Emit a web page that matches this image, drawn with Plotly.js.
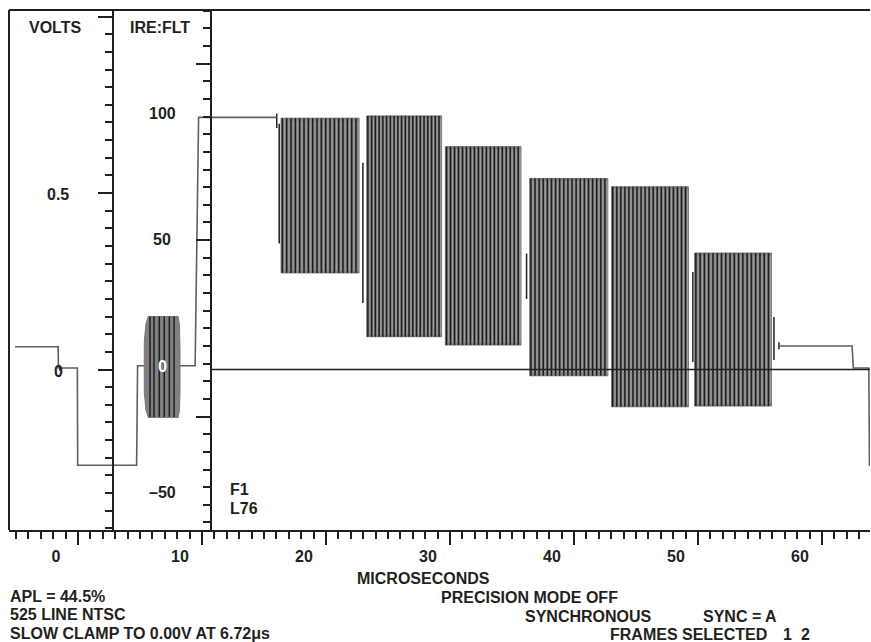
<!DOCTYPE html>
<html>
<head>
<meta charset="utf-8">
<script src="https://cdn.plot.ly/plotly-3.0.1.min.js"></script>
<style>html,body{margin:0;padding:0;background:#fff;}#chart{width:871px;height:642px;}</style>
</head>
<body>
<div id="chart"></div>
<script>
// ---------- DATA ----------
// time axis tick labels (microseconds)
const xTickVals = [0, 10, 20, 30, 40, 50, 60];
const xTickText = ['0', '10', '20', '30', '40', '50', '60'];
// IRE and volts scale labels
const ireLabelVals = [100, 50, 0, -50];
const ireLabelText = ['100', '50', '0', '\u201350'];
const voltLabelVals = [0.5, 0];
const voltLabelText = ['0.5', '0'];

// line portions (µs, IRE); null marks a break where a packet is drawn
const lineT   = [-3.3, 0.17, 0.2, 1.72, 1.75, 6.5, 6.58, 7.12, null, 10.0, 11.22, 11.5, 17.8, null, 58.3, 64.2, 64.3, 65.55, 65.6, 65.7];
const lineIRE = [9, 9, 0.6, 0.6, -38, -38, 1.5, 1.5, null, 1.5, 1.5, 100, 100, null, 9.3, 9.3, 0.6, 0.6, -38, -38];

// colour burst envelope (µs, IRE) and its visible stripes
const burstT   = [7.12, 7.25, 7.44, 9.86, 9.96, 10.0, 10.0, 9.96, 9.86, 7.44, 7.25, 7.12];
const burstIRE = [11, 18, 21, 21, 17, 8, -8, -16, -19, -19, -16, -9];
const burstStripeT = [7.58, 7.9, 8.33, 8.73, 9.14, 9.52];

// multiburst packets
const pktStart   = [18.15, 25.06, 31.4, 38.2, 44.8, 51.5];
const pktEnd     = [24.44, 31.1, 37.5, 44.5, 51.0, 57.7];
const pktTop     = [99.7, 100.6, 88.4, 75.8, 72.5, 46.2];
const pktBottom  = [38.3, 13.0, 9.7, -2.5, -14.8, -14.5];
const pktStripes = [18, 20, 19, 19, 19, 18];

// short transition marks between packets (µs, top IRE, bottom IRE)
const markT   = [17.8, 18.0, 24.75, 37.95, 51.36, 57.9, 58.3, 0.3];
const markTop = [101.5, 97.5, 82, 46, 38.7, 20.8, 10.8, 1.6];
const markBot = [95.8, 50, 26.4, 28, 3, 3.8, 8, -0.4];

// ---------- GEOMETRY HELPERS ----------
const W = 871, H = 642, L = 9, R = 870, T = 10, B = 530;
const xp = px => (px - L) / (R - L);
const yp = py => (B - py) / (B - T);
const ink = '#231f20';
const FONT = 'Liberation Sans, Arial, Helvetica, sans-serif';
const xRange = [(L - 56) / 12.4, (R - 56) / 12.4];
const pxPerIRE = 2.521, zeroPx = 369.5;
const yRange = [-(B - zeroPx) / pxPerIRE, (zeroPx - T) / pxPerIRE];
const vRange = [yRange[0] / 140, yRange[1] / 140];

const traces = [];
// packet fills
const fx = [], fy = [];
pktStart.forEach((s, i) => {
  fx.push(s, pktEnd[i], pktEnd[i], s, s, null);
  fy.push(pktBottom[i], pktBottom[i], pktTop[i], pktTop[i], pktBottom[i], null);
});
traces.push({x: fx, y: fy, mode: 'lines', fill: 'toself', fillcolor: 'rgb(128,128,128)',
  line: {color: 'rgb(120,120,120)', width: 1}, hoverinfo: 'skip', showlegend: false});
traces.push({x: burstT.concat([burstT[0]]), y: burstIRE.concat([burstIRE[0]]), mode: 'lines', fill: 'toself',
  fillcolor: 'rgb(128,128,128)', line: {color: 'rgb(120,120,120)', width: 1}, hoverinfo: 'skip', showlegend: false});

// stripes
const lx = [], ly = [], dx = [], dy = [];
pktStart.forEach((s, i) => {
  const n = pktStripes[i], step = (pktEnd[i] - s) / n;
  for (let k = 0; k < n; k++) {
    const t = s + step * (k + 0.3);
    dx.push(t, t, null); dy.push(pktBottom[i], pktTop[i], null);
    const t2 = t + step * 0.5;
    if (t2 < pktEnd[i]) { lx.push(t2, t2, null); ly.push(pktBottom[i] + 1, pktTop[i] - 1, null); }
  }
});
burstStripeT.forEach(t => { dx.push(t, t, null); dy.push(-18.8, 21, null); });
markT.forEach((t, i) => { dx.push(t, t, null); dy.push(markBot[i], markTop[i], null); });
traces.push({x: lx, y: ly, mode: 'lines', line: {color: 'rgba(205,205,205,0.55)', width: 0.8}, hoverinfo: 'skip', showlegend: false});
traces.push({x: dx, y: dy, mode: 'lines', line: {color: 'rgb(30,30,30)', width: 1.5}, hoverinfo: 'skip', showlegend: false});
// main line
traces.push({x: lineT, y: lineIRE, mode: 'lines', connectgaps: false,
  line: {color: 'rgb(95,95,95)', width: 1.6}, hoverinfo: 'skip', showlegend: false});
// dummy traces to activate the tick axes
traces.push({x: [30], y: [0.2], xaxis: 'x2', yaxis: 'y2', mode: 'markers', marker: {opacity: 0}, hoverinfo: 'skip', showlegend: false});

const tickFont = {family: FONT, size: 16, color: ink, weight: 'bold'};
const annFont = {family: FONT, size: 16, color: ink, weight: 'bold'};

const ann = [];
function txt(text, px, py, anchor, color) {
  ann.push({text: text, xref: 'paper', yref: 'paper', x: xp(px), y: yp(py), xanchor: anchor || 'left',
    yanchor: 'middle', showarrow: false, font: Object.assign({}, annFont, color ? {color: color} : {})});
}
txt('VOLTS', 55, 28, 'center');
txt('IRE:FLT', 160, 28, 'center');
ireLabelVals.forEach((v, i) => {
  ann.push({text: ireLabelText[i], xref: 'paper', yref: 'y', x: xp(162), y: v, yshift: 3.5, xanchor: 'center',
    yanchor: 'middle', showarrow: false, font: Object.assign({}, annFont, v === 0 ? {color: '#ffffff'} : {})});
});
voltLabelVals.forEach((v, i) => {
  ann.push({text: voltLabelText[i], xref: 'paper', yref: 'y2', x: xp(58), y: v, yshift: v === 0 ? -2 : -1,
    xanchor: 'center', yanchor: 'middle', showarrow: false, font: annFont});
});
txt('F1', 228, 489);
txt('L76', 228, 508);
txt('MICROSECONDS', 355, 578);
txt('APL = 44.5%', 8, 596);
txt('525 LINE NTSC', 8, 614);
txt('SLOW CLAMP TO 0.00V AT 6.72\u03bcs', 8, 633);
txt('PRECISION MODE OFF', 439, 597);
txt('SYNCHRONOUS', 523, 616);
txt('SYNC = A', 701, 616);
txt('FRAMES SELECTED', 608, 634);
txt('1', 787, 634, 'center');
txt('2', 805, 634, 'center');

const shapes = [
  {type: 'line', xref: 'paper', yref: 'paper', x0: 0, x1: 1, y0: 1, y1: 1, line: {color: ink, width: 2}},
  {type: 'line', xref: 'paper', yref: 'paper', x0: 0, x1: 0, y0: 0, y1: 1, line: {color: ink, width: 2}},
  {type: 'line', xref: 'paper', yref: 'y', x0: xp(211), x1: 1, y0: 0, y1: 0, line: {color: ink, width: 1.5}, layer: 'above'}
];

const layout = {
  width: W, height: H,
  margin: {l: L, r: W - R, t: T, b: H - B, pad: 0},
  paper_bgcolor: '#ffffff', plot_bgcolor: '#ffffff',
  showlegend: false, hovermode: false,
  xaxis: {domain: [0, 1], range: xRange, anchor: 'y', tickmode: 'array', tickvals: xTickVals, ticktext: xTickText,
    ticks: 'outside', ticklen: 12, tickcolor: 'rgba(0,0,0,0)', showline: false, showgrid: false, zeroline: false,
    tickfont: tickFont, fixedrange: true},
  xaxis2: {overlaying: 'x', anchor: 'y', side: 'bottom', range: xRange, showline: true, linewidth: 2, linecolor: ink,
    ticks: 'outside', tick0: (78 - 56) / 12.4, dtick: 10, ticklen: 13, tickwidth: 2, tickcolor: ink,
    minor: {ticks: 'outside', tick0: (78 - 56) / 12.4, dtick: 1, ticklen: 7, tickwidth: 2, tickcolor: ink, showgrid: false},
    showticklabels: false, showgrid: false, zeroline: false, fixedrange: true},
  yaxis: {anchor: 'free', position: xp(211), side: 'left', range: yRange, showline: true, linewidth: 2, linecolor: ink,
    ticks: 'outside', tick0: 51.33, dtick: 70, ticklen: 14, tickwidth: 2, tickcolor: ink,
    minor: {ticks: 'outside', tick0: 51.33, dtick: 7, ticklen: 7, tickwidth: 2, tickcolor: ink, showgrid: false},
    showticklabels: false, showgrid: false, zeroline: false, fixedrange: true},
  yaxis2: {overlaying: 'y', anchor: 'free', position: xp(113), side: 'left', range: vRange, showline: true, linewidth: 2,
    linecolor: ink, ticks: 'outside', tick0: 0, dtick: 0.5, ticklen: 14, tickwidth: 2, tickcolor: ink,
    minor: {ticks: 'outside', tick0: 0, dtick: 0.05, ticklen: 7, tickwidth: 2, tickcolor: ink, showgrid: false},
    showticklabels: false, showgrid: false, zeroline: false, fixedrange: true},
  annotations: ann,
  shapes: shapes
};

Plotly.newPlot('chart', traces, layout, {displayModeBar: false, staticPlot: true});
</script>
</body>
</html>
